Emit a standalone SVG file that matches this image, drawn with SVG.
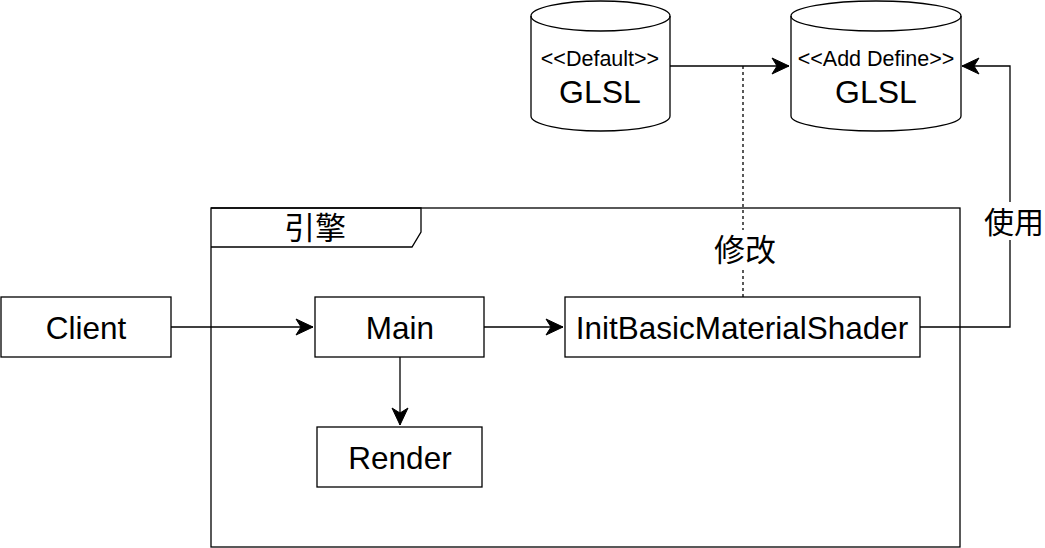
<svg xmlns="http://www.w3.org/2000/svg" width="1045" height="548" viewBox="0 0 1045 548">
<style>
.s{fill:#fff;stroke:#000;stroke-width:1.3}
.l{fill:none;stroke:#000;stroke-width:1.3}
.t{font-family:"Liberation Sans",Arial,sans-serif;fill:#000;text-anchor:middle}
.c{font-family:"Noto Sans CJK SC","Liberation Sans",sans-serif;fill:#000;text-anchor:middle}
</style>
<defs>
<marker id="a" markerUnits="userSpaceOnUse" markerWidth="20" markerHeight="20" viewBox="-20 -10 20 20" refX="0" refY="0" orient="auto">
<path d="M0,0 L-17,-8 L-12,0 L-17,8 Z" fill="#000" stroke="#000" stroke-width="1"/>
</marker>
</defs>
<rect width="1045" height="548" fill="#fff"/>
<g id="frame">
<rect class="l" x="211" y="208" width="749" height="339"/>
<path class="l" d="M211,208 H421 V232 L412,247 H211"/>
<text class="c" x="315" y="239" font-size="31">引擎</text>
</g>
<g id="connectors">
<path class="l" d="M670,66 H789" marker-end="url(#a)"/>
<path class="l" d="M920,327 H1010 V66 H962" marker-end="url(#a)"/>
<path class="l" d="M743,66 V297" stroke-dasharray="3,3"/>
<path class="l" d="M171,327 H313" marker-end="url(#a)"/>
<path class="l" d="M484,327 H563" marker-end="url(#a)"/>
<path class="l" d="M400,357 V425" marker-end="url(#a)"/>
<rect x="712" y="230" width="64" height="38" fill="#fff"/>
<text class="c" x="745" y="261" font-size="31">修改</text>
<rect x="983" y="202" width="60" height="38" fill="#fff"/>
<text class="c" x="1014" y="233" font-size="30">使用</text>
</g>
<g id="default-glsl">
<path class="s" d="M531,16 V116 A69.5,15 0 0 0 670,116 V16 A69.5,15 0 0 0 531,16 Z"/>
<path class="l" d="M531,16 A69.5,15 0 0 0 670,16"/>
<text class="t" x="600" y="66" font-size="21.5">&lt;&lt;Default&gt;&gt;</text>
<text class="t" x="600" y="103" font-size="32">GLSL</text>
</g>
<g id="define-glsl">
<path class="s" d="M791,16 V116 A85,15 0 0 0 961,116 V16 A85,15 0 0 0 791,16 Z"/>
<path class="l" d="M791,16 A85,15 0 0 0 961,16"/>
<text class="t" x="876" y="66" font-size="21.5">&lt;&lt;Add Define&gt;&gt;</text>
<text class="t" x="876" y="103" font-size="32">GLSL</text>
</g>
<g id="client">
<rect class="s" x="1" y="297" width="170" height="60"/>
<text class="t" x="86" y="339" font-size="31.5">Client</text>
</g>
<g id="main">
<rect class="s" x="315" y="297" width="169" height="60"/>
<text class="t" x="400" y="339" font-size="31.5">Main</text>
</g>
<g id="render">
<rect class="s" x="317" y="427" width="165" height="60"/>
<text class="t" x="400" y="469" font-size="31.5">Render</text>
</g>
<g id="init">
<rect class="s" x="565" y="297" width="355" height="60"/>
<text class="t" x="742" y="339" font-size="31.5">InitBasicMaterialShader</text>
</g>
</svg>
